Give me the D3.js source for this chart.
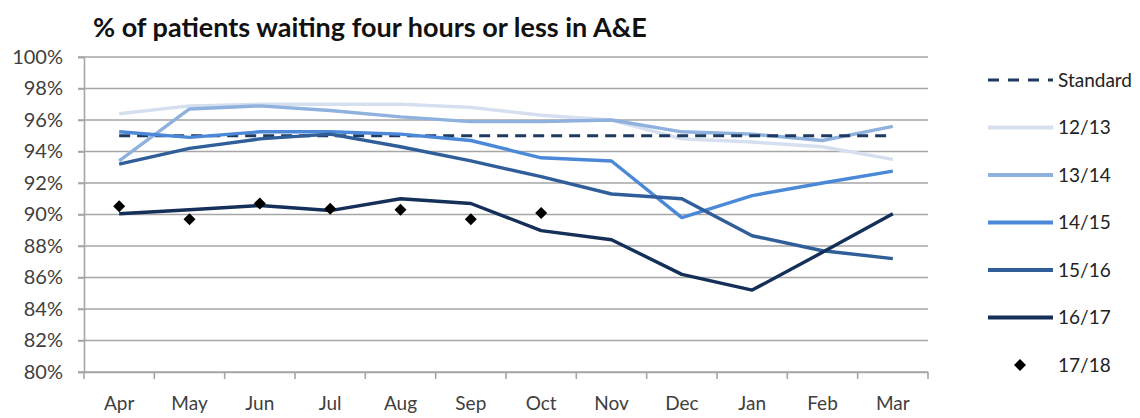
<!DOCTYPE html>
<html><head><meta charset="utf-8">
<script src="https://cdn.jsdelivr.net/npm/d3@7"></script>
<style>body{margin:0;background:#fff;} svg{display:block;}</style>
</head><body>
<svg id="chart" width="1140" height="418"></svg>
<script>
const months = ["Apr","May","Jun","Jul","Aug","Sep","Oct","Nov","Dec","Jan","Feb","Mar"];
const yTicks = [80,82,84,86,88,90,92,94,96,98,100];
const standard = [95,95,95,95,95,95,95,95,95,95,95,95];
const s1213 = [96.4,96.9,97.0,97.0,97.0,96.8,96.3,96.0,94.8,94.6,94.3,93.5];
const s1314 = [93.4,96.7,96.9,96.6,96.2,95.9,95.9,96.0,95.25,95.1,94.7,95.6];
const s1415 = [95.25,94.9,95.25,95.25,95.1,94.7,93.6,93.4,89.8,91.2,92.0,92.75];
const s1516 = [93.2,94.2,94.8,95.1,94.3,93.4,92.4,91.3,91.0,88.65,87.7,87.2];
const s1617 = [90.05,90.3,90.57,90.25,91.0,90.7,88.98,88.4,86.2,85.2,87.6,90.05];
const s1718 = [90.53,89.7,90.7,90.36,90.3,89.7,90.1];

const seriesNames = ["12/13","13/14","14/15","15/16","16/17"];
const seriesData = [s1213,s1314,s1415,s1516,s1617];
const seriesColors = ["#d5dff0","#8fb1dd","#4b89d8","#2f5e99","#142f58"];

(function(){
const svg = d3.select("#chart");
const L = 84, R = 928, T = 57, B = 372;
const x = d3.scaleBand().domain(months).range([L,R]);
const y = d3.scaleLinear().domain([80,100]).range([B,T]);
const font = "Lato, 'Open Sans', sans-serif";

svg.append("text").attr("x",93).attr("y",37).attr("font-family",font).attr("font-weight","bold")
  .attr("font-size",27).attr("fill","#111").text("% of patients waiting four hours or less in A&E");

svg.append("g").selectAll("line").data(yTicks).join("line")
  .attr("x1",L-6).attr("x2",R).attr("y1",d=>y(d)).attr("y2",d=>y(d))
  .attr("stroke","#a6a6a6").attr("stroke-width",1.6);

const yAxis = svg.append("g").attr("transform",`translate(${L},0)`)
  .call(d3.axisLeft(y).tickValues(yTicks).tickFormat(d=>d+"%").tickSize(6).tickPadding(15));
yAxis.select(".domain").attr("stroke","#a6a6a6").attr("stroke-width",1.6);
yAxis.selectAll(".tick line").attr("stroke","#a6a6a6").attr("stroke-width",1.6);
yAxis.selectAll("text").attr("font-family",font).attr("font-size",20).attr("fill","#404040");

const xAxis = svg.append("g").attr("transform",`translate(0,${B})`)
  .call(d3.axisBottom(x).tickSize(0).tickPadding(25));
xAxis.select(".domain").attr("stroke","#a6a6a6").attr("stroke-width",1.6);
xAxis.selectAll("text").attr("font-family",font).attr("font-size",19).attr("fill","#404040");
const bounds = months.map(m=>x(m)).concat([R]);
svg.append("g").selectAll("line").data(bounds).join("line")
  .attr("x1",d=>d).attr("x2",d=>d).attr("y1",B).attr("y2",B+7)
  .attr("stroke","#a6a6a6").attr("stroke-width",1.6);

const cx = m => x(m)+x.bandwidth()/2;
const line = d3.line().x((d,i)=>cx(months[i])).y(d=>y(d));

function drawSeries(k){
  svg.append("path").datum(seriesData[k]).attr("d",line).attr("fill","none")
    .attr("stroke",seriesColors[k]).attr("stroke-width",3.4).attr("stroke-linejoin","round");
}
drawSeries(0); drawSeries(1);
svg.append("path").datum(standard).attr("d",line).attr("fill","none")
  .attr("stroke","#1f3a60").attr("stroke-width",3).attr("stroke-dasharray","11,7");
drawSeries(2); drawSeries(3); drawSeries(4);

const diamond = d3.symbol().type(d3.symbolSquare).size(72);
svg.append("g").selectAll("path").data(s1718).join("path")
  .attr("d",diamond).attr("transform",(d,i)=>`translate(${cx(months[i])},${y(d)}) rotate(45)`).attr("fill","#000");

const leg = svg.append("g");
const legItems = [{name:"Standard",color:"#1f3a60",dash:true}].concat(
  seriesNames.map((n,i)=>({name:n,color:seriesColors[i]}))).concat([{name:"17/18",marker:true}]);
legItems.forEach((it,i)=>{
  const yy = 80 + i*47.5;
  if(it.marker){
    leg.append("path").attr("d",diamond).attr("transform",`translate(1020,${yy}) rotate(45)`).attr("fill","#000");
  } else {
    leg.append("line").attr("x1",988).attr("x2",1053).attr("y1",yy).attr("y2",yy)
      .attr("stroke",it.color).attr("stroke-width",it.dash?3:4)
      .attr("stroke-dasharray",it.dash?"11,9":null);
  }
  leg.append("text").attr("x",1058).attr("y",yy).attr("dy","0.35em").attr("font-family",font)
    .attr("font-size",19).attr("fill","#222").text(it.name);
});
})();
</script>
</body></html>
